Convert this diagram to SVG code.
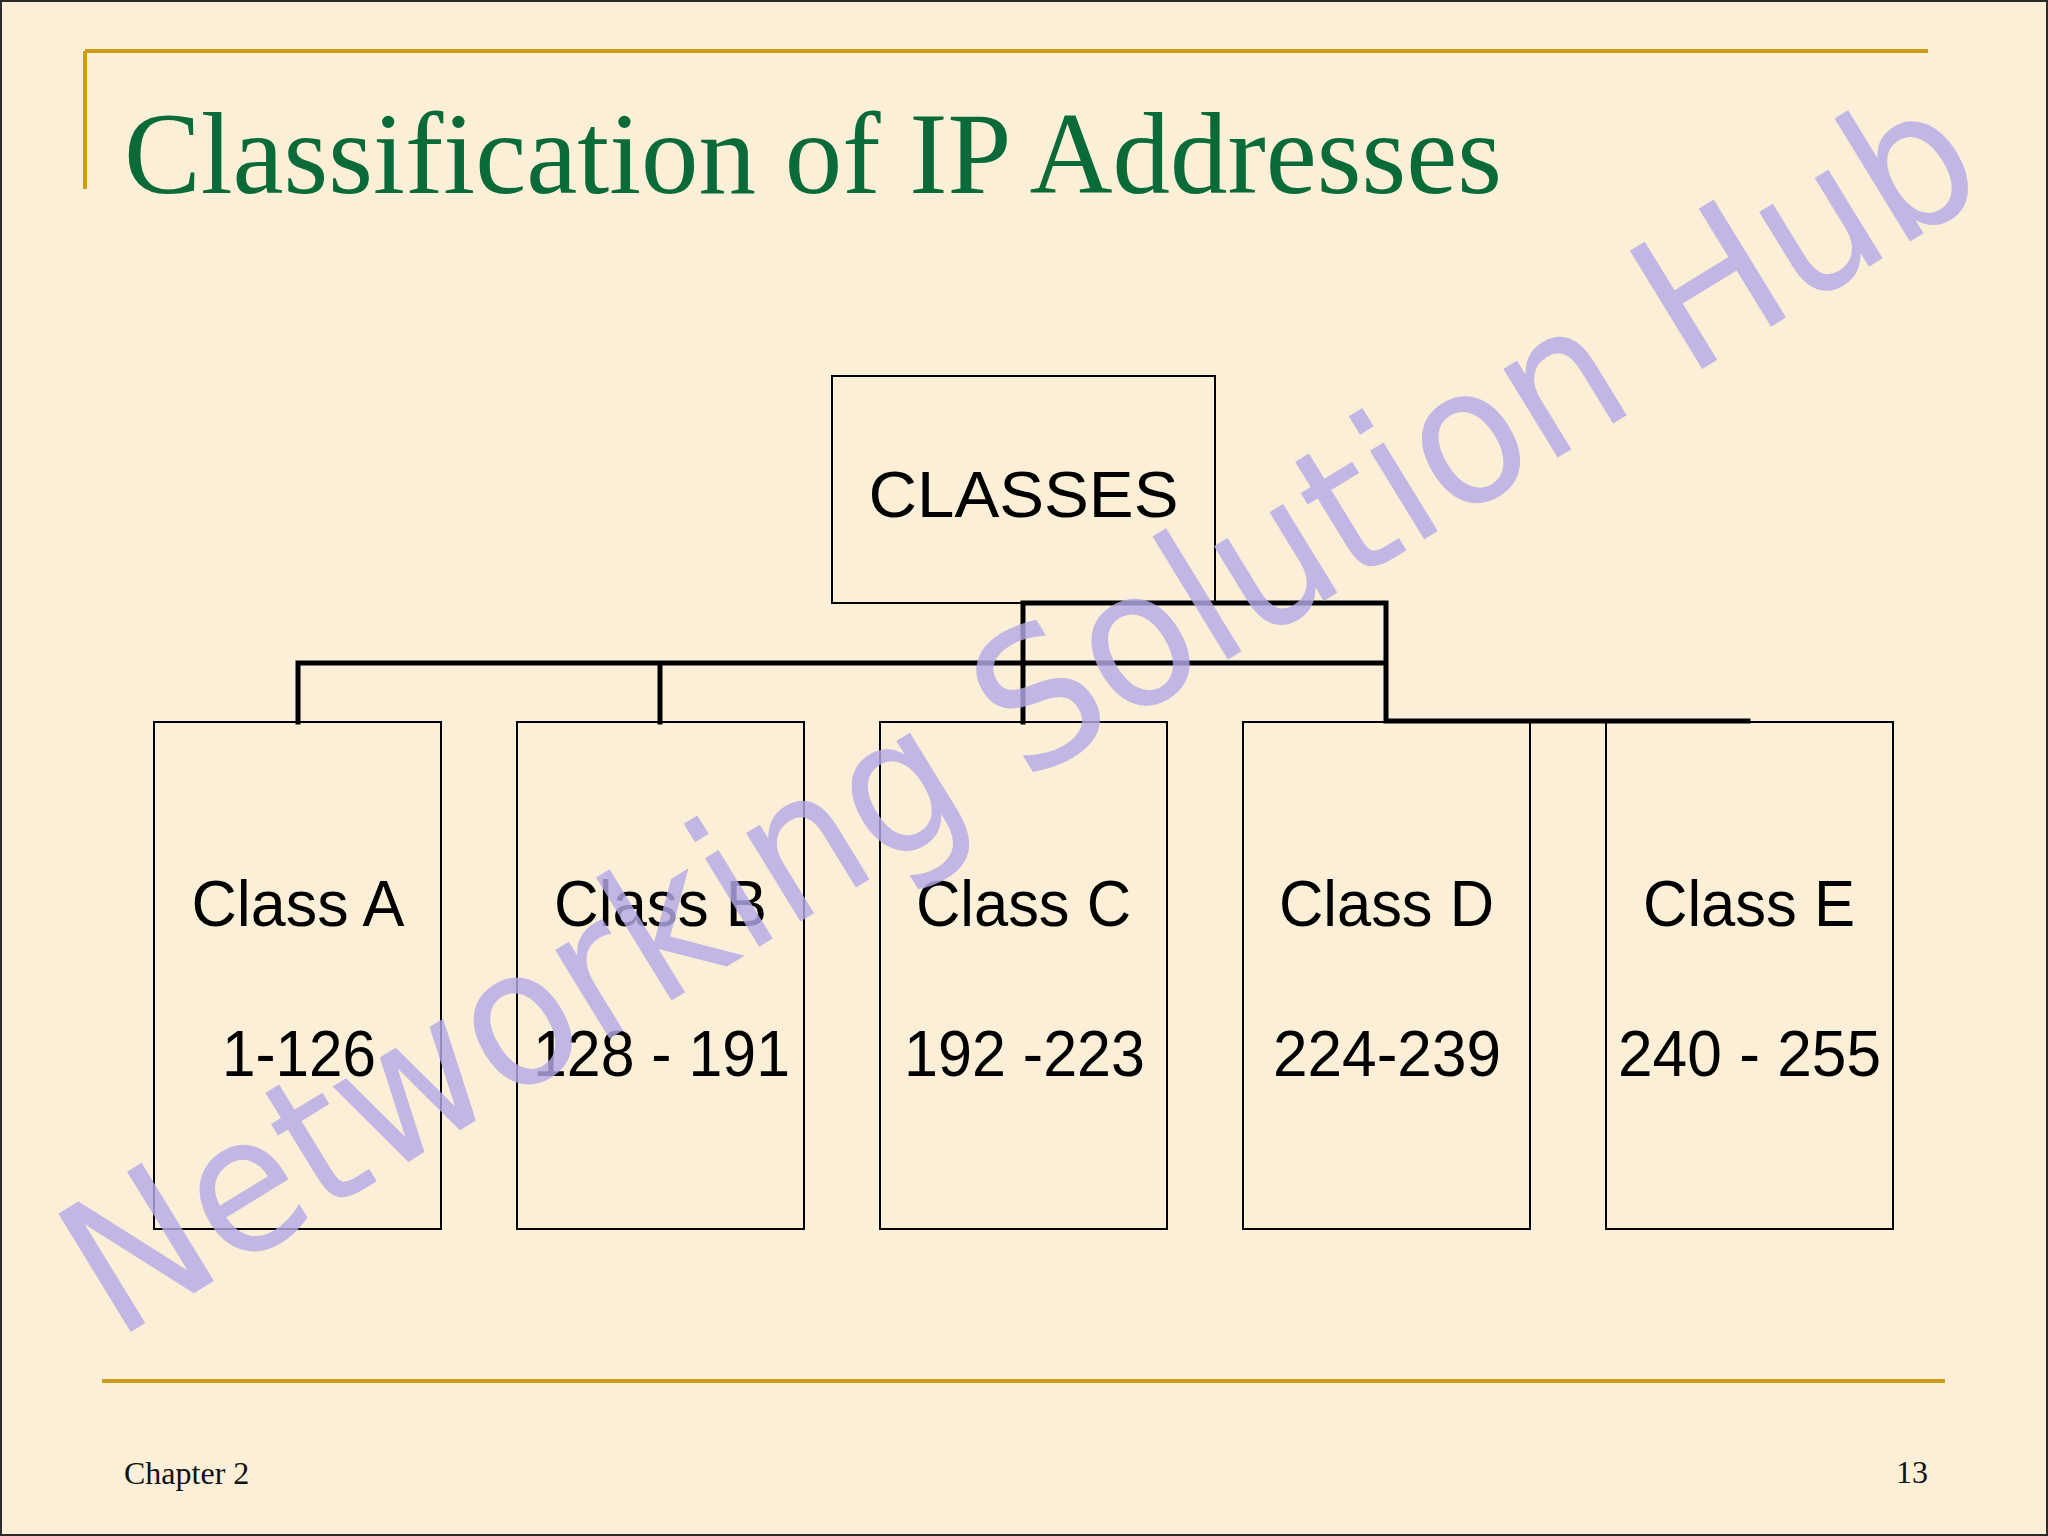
<svg xmlns="http://www.w3.org/2000/svg" width="2048" height="1536" viewBox="0 0 2048 1536">
  <defs>
    <style>
      .box { fill: none; stroke: #000; stroke-width: 2; }
      .lbl { font-family: "Liberation Sans", Arial, sans-serif; font-size: 64px; fill: #000; text-anchor: middle; }
      .conn { fill: none; stroke: #000; stroke-width: 5; stroke-linecap: square; }
      .gold { stroke: #CF9D17; stroke-width: 4; fill: none; }
      .foot { font-family: "Liberation Serif", "Times New Roman", serif; font-size: 32px; fill: #111; }
    </style>
  </defs>
  <rect x="0" y="0" width="2048" height="1536" fill="#FBF0D7"/>

  <g id="frame">
    <path class="gold" d="M85 51 H1928 M85 51 V189"/>
    <path class="gold" d="M102 1381 H1945"/>
  </g>

  <text id="title" x="124" y="193" font-family="'Liberation Serif', 'Times New Roman', serif" font-size="116" fill="#0A6B38" textLength="1378" lengthAdjust="spacingAndGlyphs">Classification of IP Addresses</text>

  <g id="connectors">
    <path class="conn" d="M298 663 H1386 M298 663 V722 M660 663 V722 M1023 603 V722 M1023 603 H1386 V721 H1748"/>
  </g>

  <g id="node-classes">
    <rect class="box" x="832" y="376" width="383" height="227"/>
    <text class="lbl" x="1023.5" y="517" font-size="68" textLength="310" lengthAdjust="spacingAndGlyphs">CLASSES</text>
  </g>
  <g id="node-class-a">
    <rect class="box" x="154" y="722" width="287" height="507"/>
    <text class="lbl" x="298" y="926" textLength="213" lengthAdjust="spacingAndGlyphs">Class A</text>
    <text class="lbl" x="299" y="1076" textLength="154" lengthAdjust="spacingAndGlyphs">1-126</text>
  </g>
  <g id="node-class-b">
    <rect class="box" x="517" y="722" width="287" height="507"/>
    <text class="lbl" x="660.5" y="926" textLength="213" lengthAdjust="spacingAndGlyphs">Class B</text>
    <text class="lbl" x="661.5" y="1076" textLength="257" lengthAdjust="spacingAndGlyphs">128 - 191</text>
  </g>
  <g id="node-class-c">
    <rect class="box" x="880" y="722" width="287" height="507"/>
    <text class="lbl" x="1023.5" y="926" textLength="215" lengthAdjust="spacingAndGlyphs">Class C</text>
    <text class="lbl" x="1024.5" y="1076" textLength="241" lengthAdjust="spacingAndGlyphs">192 -223</text>
  </g>
  <g id="node-class-d">
    <rect class="box" x="1243" y="722" width="287" height="507"/>
    <text class="lbl" x="1386.5" y="926" textLength="215" lengthAdjust="spacingAndGlyphs">Class D</text>
    <text class="lbl" x="1387" y="1076" textLength="228" lengthAdjust="spacingAndGlyphs">224-239</text>
  </g>
  <g id="node-class-e">
    <rect class="box" x="1606" y="722" width="287" height="507"/>
    <text class="lbl" x="1749" y="926" textLength="212" lengthAdjust="spacingAndGlyphs">Class E</text>
    <text class="lbl" x="1749.5" y="1076" textLength="263" lengthAdjust="spacingAndGlyphs">240 - 255</text>
  </g>

  <text id="watermark" transform="translate(116 1341) rotate(-31.5)" x="0" y="0" font-family="'DejaVu Sans', 'Open Sans', sans-serif" font-size="190" fill="#B3A8E6" fill-opacity="0.82" textLength="2200" lengthAdjust="spacingAndGlyphs">Networking Solution Hub</text>

  <text id="footer-left" class="foot" x="124" y="1484">Chapter 2</text>
  <text id="footer-right" class="foot" x="1896" y="1483" font-size="30">13</text>

  <rect x="1" y="1" width="2046" height="1534" fill="none" stroke="#2b2b2b" stroke-width="2"/>
</svg>
